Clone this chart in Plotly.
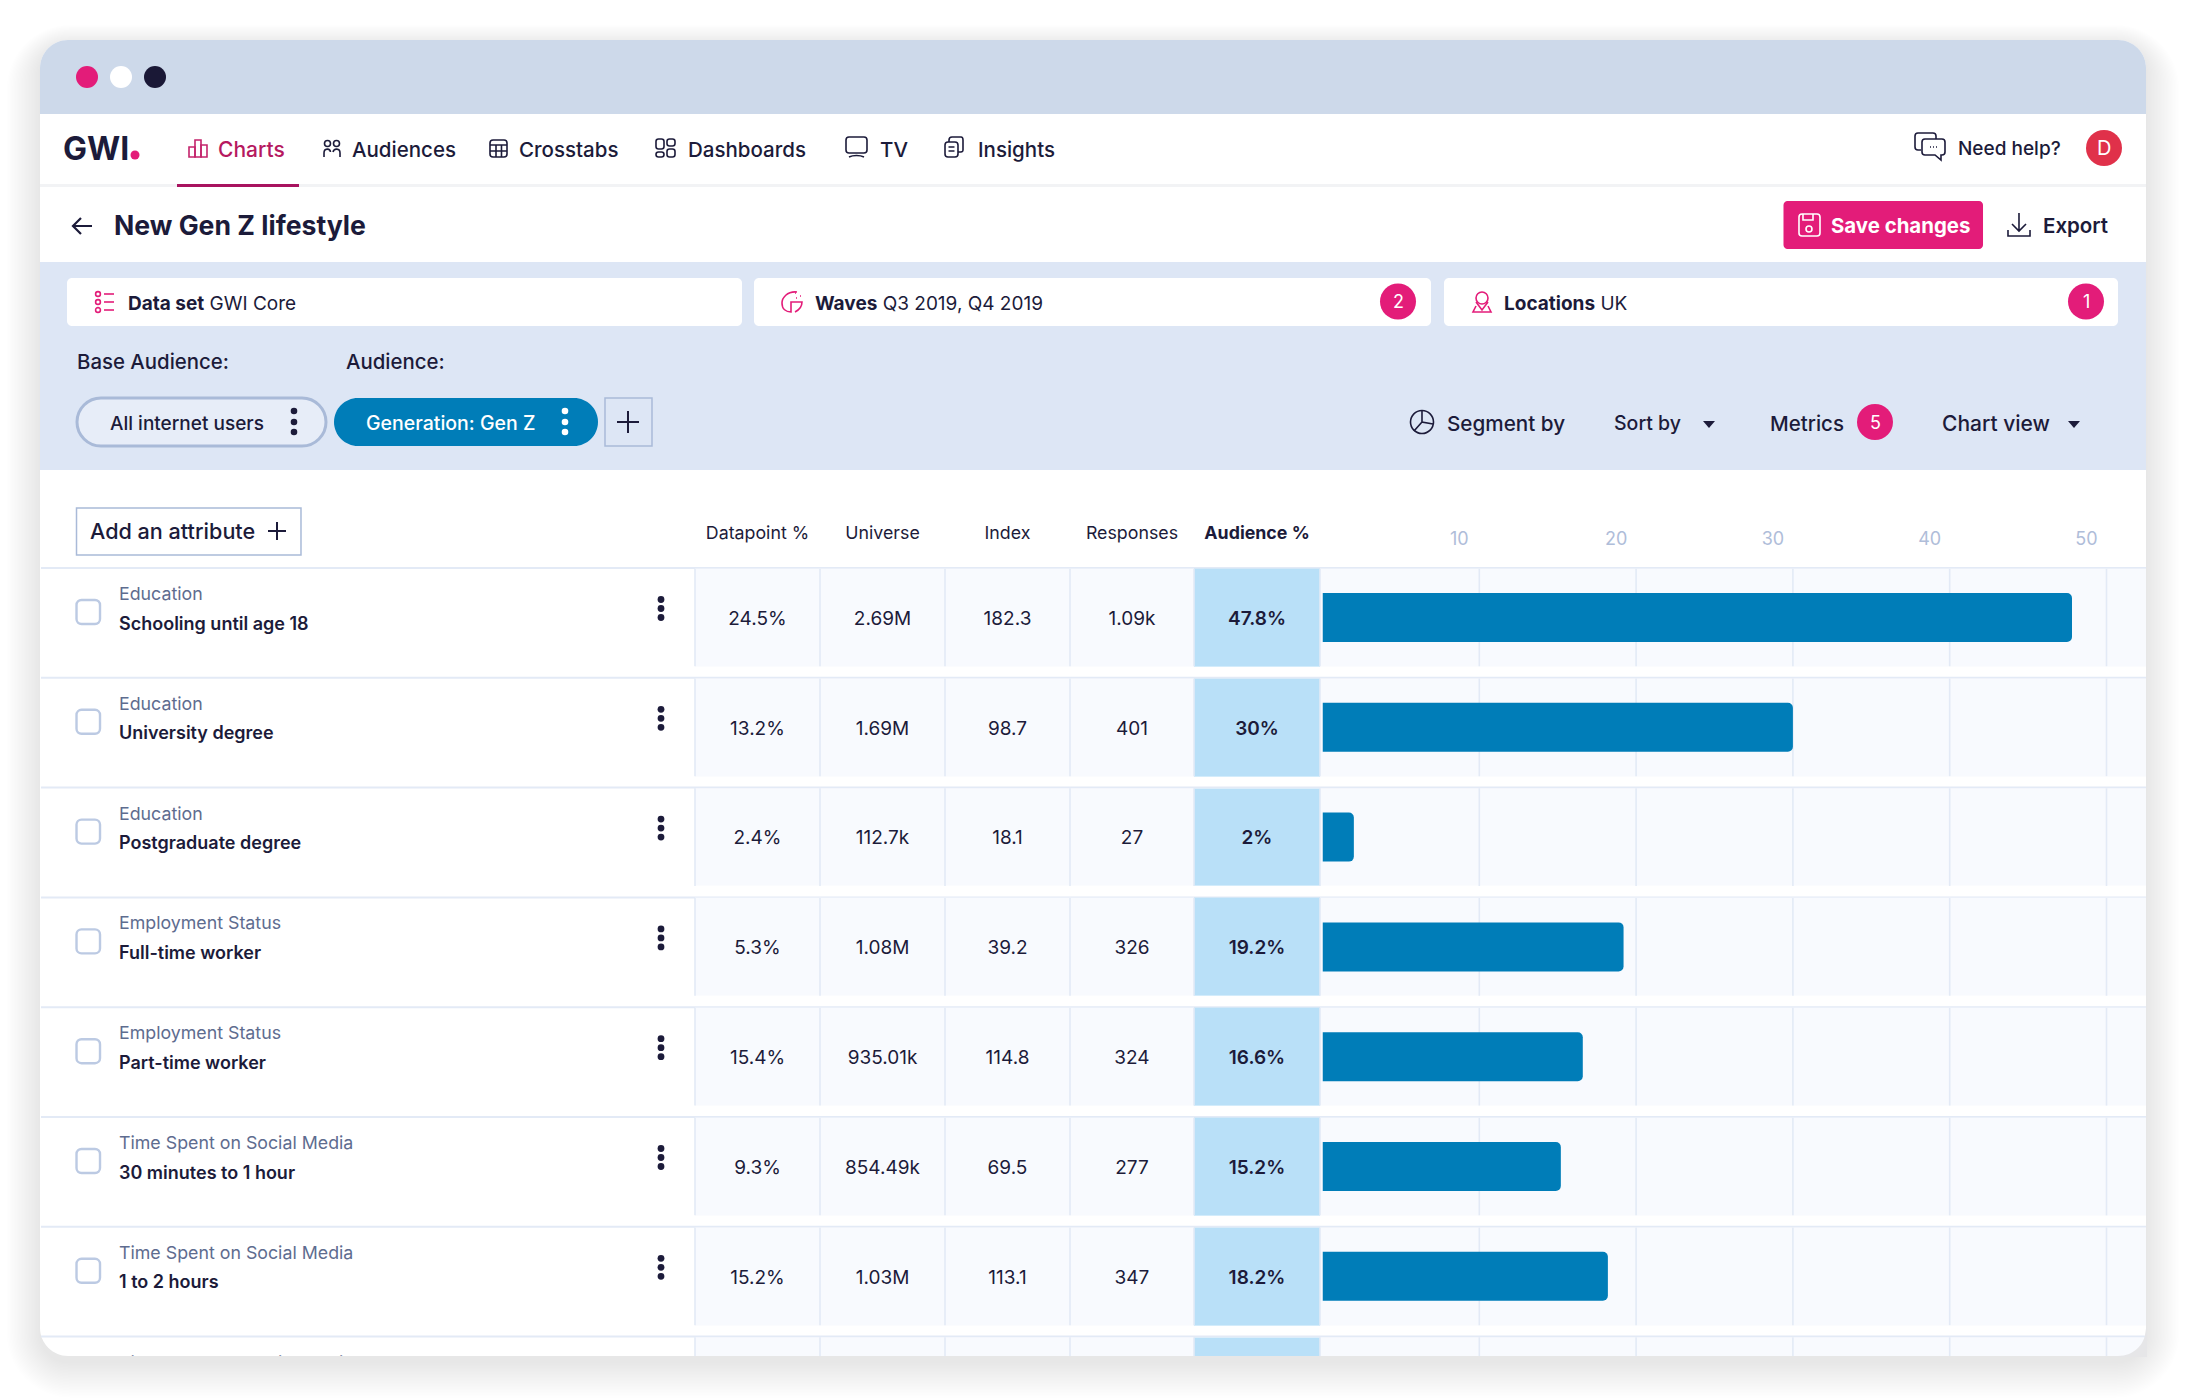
import re
import plotly.graph_objects as go

# table data (last row is cut off by the window edge)
groups = ["Education", "Education", "Education", "Employment Status", "Employment Status",
          "Time Spent on Social Media", "Time Spent on Social Media", "Time Spent on Social Media"]
names = ["Schooling until age 18", "University degree", "Postgraduate degree", "Full-time worker",
         "Part-time worker", "30 minutes to 1 hour", "1 to 2 hours"]
datapoint = ["24.5%", "13.2%", "2.4%", "5.3%", "15.4%", "9.3%", "15.2%"]
universe = ["2.69M", "1.69M", "112.7k", "1.08M", "935.01k", "854.49k", "1.03M"]
index_vals = ["182.3", "98.7", "18.1", "39.2", "114.8", "69.5", "113.1"]
responses = ["1.09k", "401", "27", "326", "324", "277", "347"]
audience = [47.8, 30, 2, 19.2, 16.6, 15.2, 18.2]
columns = ["Datapoint %", "Universe", "Index", "Responses", "<b>Audience %</b>"]
value_ticks = [10, 20, 30, 40, 50]
nav_items = ["Audiences", "Crosstabs", "Dashboards", "TV", "Insights"]

W, H = 2186, 1398
FONT = "Inter"
INK = "#1C1B3A"
PINK = "#E31C79"
BLUE = "#007DB8"
LINE = "#E3EAF6"
EDGE = "#A9BAD8"
SLATE = "#5E6C8F"

# pixel layout of the window
LEFT, RIGHT, TOP, BOTTOM = 40, 2146, 40, 1356
ROW0, ROW_H = 617.5, 109.8
TABLE_TOP = 568
col_edges = [695, 820, 945, 1070, 1194, 1320, RIGHT]
PX_PER_UNIT = 15.68
ZERO_X = 1322.5


def P(d):
    # pixel path -> paper path
    out, is_x = [], True
    for t in d.split():
        if t.isalpha():
            out.append(t)
        else:
            v = float(t)
            out.append(f"{v / W:.5f}" if is_x else f"{1 - v / H:.5f}")
            is_x = not is_x
    return " ".join(out)


def rr(x0, y0, x1, y1, r, bottom=True):
    k = r * 0.45
    d = f"M {x0 + r} {y0} L {x1 - r} {y0} C {x1 - k} {y0} {x1} {y0 + k} {x1} {y0 + r} "
    if bottom:
        d += f"L {x1} {y1 - r} C {x1} {y1 - k} {x1 - k} {y1} {x1 - r} {y1} "
        d += f"L {x0 + r} {y1} C {x0 + k} {y1} {x0} {y1 - k} {x0} {y1 - r} "
    else:
        d += f"L {x1} {y1} L {x0} {y1} "
    d += f"L {x0} {y0 + r} C {x0} {y0 + k} {x0 + k} {y0} {x0 + r} {y0} Z"
    return d


shapes = []
notes = []


def path(d, fill=None, color=None, width=1.6, opacity=1, layer="below"):
    shapes.append(dict(type="path", path=P(d), xref="paper", yref="paper", layer=layer, opacity=opacity,
                       fillcolor=fill or "rgba(0,0,0,0)",
                       line=dict(color=color or "rgba(0,0,0,0)", width=width if color else 0)))


def circle(cx, cy, r, fill=None, color=None, width=1.6):
    shapes.append(dict(type="circle", xref="paper", yref="paper", layer="below",
                       x0=(cx - r) / W, x1=(cx + r) / W, y0=1 - (cy + r) / H, y1=1 - (cy - r) / H,
                       fillcolor=fill or "rgba(0,0,0,0)",
                       line=dict(color=color or "rgba(0,0,0,0)", width=width if color else 0)))


def text(x, y, s, size=20, color=INK, weight=400, anchor="left"):
    notes.append(dict(x=x / W, y=1 - y / H, xref="paper", yref="paper", text=s, showarrow=False,
                      xanchor=anchor, yanchor="middle", borderpad=0,
                      font=dict(family=FONT, size=size, color=color, weight=weight)))


# shadow, window, bands
for k in range(1, 25):
    path(rr(LEFT - k * 1.4, TOP - k * 0.9 + 6, RIGHT + k * 1.4, BOTTOM + k * 1.5 + 6, 28 + k * 1.5), fill="#000000", opacity=0.0048)
path(rr(LEFT, TOP, RIGHT, BOTTOM, 28), fill="#FFFFFF")
path(rr(LEFT, TOP, RIGHT, 114, 28, bottom=False), fill="#CDD9EA")
path(f"M {LEFT} 262 L {RIGHT} 262 L {RIGHT} 470 L {LEFT} 470 Z", fill="#DDE6F5")
path(f"M {LEFT} 185.5 L {RIGHT} 185.5", color="#F2F3F5", width=3)
path("M 177 185.5 L 299 185.5", color="#A8135F", width=3)

# traffic lights
circle(87, 77, 11, fill=PINK)
circle(121, 77, 11, fill="#FFFFFF")
circle(155, 77, 11, fill="#1A1836")

# nav
text(62, 149, "<b>GWI</b>", size=32, weight=700)
circle(135, 155, 4.5, fill=PINK)
text(217, 150, "Charts", size=21, color="#B6195F", weight=500)
for item, x in zip(nav_items, [351, 518, 687, 879, 977]):
    text(x, 150, item, size=20.5, weight=500)
text(1957, 149, "Need help?", size=19, weight=500)
circle(2104, 148, 18, fill="#E0314A")
text(2104, 148, "D", size=20, color="#FFFFFF", anchor="center")

# nav icons
for x0, x1, y0 in [(189, 195, 147), (195, 201, 140), (201, 207, 145)]:
    path(f"M {x0} 157 L {x0} {y0} L {x1} {y0} L {x1} 157 Z", color="#C4246C")
circle(327.5, 143.5, 3, color=INK)
circle(336.5, 143.5, 3, color=INK)
path("M 324 157 L 324 153 C 324 148 330 148 330.5 152", color=INK)
path("M 333 152 C 334 148 340 148 340 153 L 340 157", color=INK)
path(rr(490, 140, 507, 157, 3), color=INK)
path("M 490 145 L 507 145 M 490 151 L 507 151 M 496 145 L 496 157 M 501.5 145 L 501.5 157", color=INK)
for x0, y0, y1 in [(656, 139, 149), (667, 139, 146), (656, 152, 157), (667, 149, 157)]:
    path(rr(x0, y0, x0 + 8, y1, 2.5), color=INK)
path(rr(846, 137, 867, 153, 3), color=INK)
path("M 849 157 C 853 155 860 155 864 157", color=INK)
path(rr(945, 142, 958, 157, 3), color=INK)
path("M 949 142 L 949 140 C 949 138 950 137 952 137 L 961 137 C 962 137 963 138 963 140 L 963 150 C 963 152 962 152 958 152", color=INK)
path("M 948.5 147 L 954.5 147 M 948.5 151 L 954.5 151", color=INK)
path("M 1936 141 L 1936 136 C 1936 134 1935 133 1933 133 L 1918 133 C 1916 133 1915 134 1915 136 L 1915 147 C 1915 149 1916 150 1918 150 L 1921 150", color=INK)
path("M 1925 139 L 1942 139 C 1944 139 1945 140 1945 142 L 1945 152 C 1945 154 1944 155 1942 155 L 1941 155 L 1941 160 L 1935 155 L 1925 155 C 1923 155 1922 154 1922 152 L 1922 142 C 1922 140 1923 139 1925 139 Z", color=INK, fill="#FFFFFF")
path("M 1930 147 L 1931 147 M 1933 147 L 1934 147 M 1936 147 L 1937 147", color=INK)

# header row
path("M 92 226 L 73 226 M 81 218 L 73 226 L 81 234", color=INK, width=2.2)
text(112.5, 225, "New Gen Z lifestyle", size=26.6, weight=700)
path(rr(1783.5, 201, 1983, 249, 4), fill=PINK)
text(1830, 225, "Save changes", size=20.4, color="#FFFFFF", weight=700)
path(rr(1799, 214, 1820, 236, 3), color="#FFFFFF")
path("M 1803 214 L 1803 220 L 1813 220 L 1813 214", color="#FFFFFF")
circle(1809, 229, 3, color="#FFFFFF")
text(2042, 225, "Export", size=20.5, weight=600)
path("M 2019 213 L 2019 231 M 2012 224 L 2019 231 L 2026 224 M 2008 230 L 2008 236 L 2030 236 L 2030 230", color=INK)

# filter boxes
for x0, x1 in [(67, 742), (754, 1431), (1444, 2118)]:
    path(rr(x0, 278, x1, 326, 5), fill="#FFFFFF")
text(127, 303, "<b>Data set</b> GWI Core", size=19)
text(814, 303, "<b>Waves</b> Q3 2019, Q4 2019", size=19)
text(1503, 303, "<b>Locations</b> UK", size=19)
for cy in [294, 302, 310]:
    circle(98, cy, 2.4, color=PINK)
    path(f"M 104 {cy} L 114 {cy}", color=PINK)
path("M 797 292 C 787 291 782 298 782 303 C 782 309 786 312 791 312 L 791 302 L 802 302 C 802 306 799 310 795 312", color=PINK)
path("M 795 293 L 796 293 M 800 296 L 801 296 M 796 298 L 797 298", color=PINK)
circle(1482, 298, 6, color=PINK)
path("M 1476 302 L 1482 310 L 1488 302 M 1476 306 L 1473 312 L 1491 312 L 1488 306", color=PINK)
circle(1398, 301.5, 18, fill=PINK)
text(1398, 301.5, "2", size=18, color="#FFFFFF", anchor="center")
circle(2086, 301.5, 18, fill=PINK)
text(2086, 301.5, "1", size=18, color="#FFFFFF", anchor="center")

# audience row
text(76, 361, "Base Audience:", size=20.4, weight=500)
text(345, 361, "Audience:", size=20.4, weight=500)
path(rr(77, 398, 326, 446, 24), fill="#E7EDF8", color=EDGE, width=3)
text(108.5, 423, "All internet users", size=19, weight=500)
path(rr(334, 398, 598, 446, 24), fill=BLUE)
text(365, 423, "Generation: Gen Z", size=19.5, color="#FFFFFF", weight=500)
for cy in [411, 422, 432]:
    circle(294, cy, 3.3, fill=INK)
    circle(565, cy, 3.3, fill="#FFFFFF")
path("M 605 398 L 652 398 L 652 446 L 605 446 Z", color=EDGE, width=1.5)
path("M 617 422 L 639 422 M 628 411 L 628 433", color=INK, width=2)
circle(1422, 422, 11.5, color=INK)
path("M 1422 410.5 L 1422 422 L 1433 424 M 1422 422 L 1414 431", color=INK)
text(1445.5, 423, "Segment by", size=20.7, weight=500)
text(1613, 423, "Sort by", size=19.5, weight=500)
path("M 1703 421 L 1715 421 L 1709 428 Z", fill=INK)
text(1769, 423, "Metrics", size=20.5, weight=500)
circle(1875, 422, 18, fill=PINK)
text(1875, 422, "5", size=18, color="#FFFFFF", anchor="center")
text(1941, 423, "Chart view", size=21, weight=500)
path("M 2068 421 L 2080 421 L 2074 428 Z", fill=INK)

# table head
path("M 76.5 508 L 301 508 L 301 555 L 76.5 555 Z", color=EDGE, width=1.5)
text(89, 531, "Add an attribute", size=21.6, weight=500)
path("M 268 531 L 286 531 M 277 522 L 277 540", color=INK, width=2)

# row furniture
for i in range(len(groups)):
    top = TABLE_TOP + ROW_H * i
    path(f"M {LEFT + 1} {top} L {RIGHT} {top}", color=LINE, width=2)
for i in range(len(names)):
    top = TABLE_TOP + ROW_H * i
    path(rr(76.5, top + 32, 100, top + 56, 5), color="#BCCAE3", width=2.4)
    for dy in [31.5, 40.5, 49.5]:
        circle(661, top + dy, 3.4, fill=INK)

# bottom corner of the window sits over the cell fill
path(f"M {RIGHT - 28} {BOTTOM} C {RIGHT - 12} {BOTTOM} {RIGHT} {BOTTOM - 12} {RIGHT} {BOTTOM - 28} L {RIGHT + 1} {BOTTOM - 28} L {RIGHT + 1} {BOTTOM + 1} L {RIGHT - 28} {BOTTOM + 1} Z",
     fill="#E6E6E8", layer="above")

rows = list(range(len(groups)))
col_centers = [(a + b) / 2 for a, b in zip(col_edges[:5], col_edges[1:6])]

fig = go.Figure()

# cell fills
z = [[1 if c == 4 else 0 for c in range(6)] for _ in rows]
fig.add_trace(go.Heatmap(x=col_edges, y=rows, z=z, ygap=12, zmin=0, zmax=1, showscale=False, hoverinfo="skip",
                         colorscale=[[0, "#F8FAFE"], [1, "#B9E0F8"]], xaxis="x", yaxis="y"))

# column rules inside each cell
lx, ly = [], []
for e in col_edges[:6]:
    for i in rows:
        lx += [e, e, None]
        ly += [i - 0.445, i + 0.445, None]
fig.add_trace(go.Scatter(x=lx, y=ly, mode="lines", line=dict(color=LINE, width=1.6), hoverinfo="skip", xaxis="x", yaxis="y"))

# row labels
fig.add_trace(go.Scatter(x=[119] * len(groups), y=[i - 0.2 for i in rows], mode="text", text=groups, textposition="middle right",
                         textfont=dict(family=FONT, size=17.8, color=SLATE), hoverinfo="skip", xaxis="x", yaxis="y"))
fig.add_trace(go.Scatter(x=[119] * len(names), y=[i + 0.07 for i in rows[:len(names)]], mode="text", text=names, textposition="middle right",
                         textfont=dict(family=FONT, size=18, color=INK, weight=600), hoverinfo="skip", xaxis="x", yaxis="y"))

# table values
audience_labels = [f"{v:g}%" for v in audience]
for c, vals in enumerate([datapoint, universe, index_vals, responses, audience_labels]):
    fig.add_trace(go.Scatter(x=[col_centers[c]] * len(vals), y=[i + 0.024 for i in rows[:len(vals)]], mode="text", text=vals, textposition="middle center",
                             textfont=dict(family=FONT, size=19, color=INK, weight=600 if c == 4 else 400),
                             hoverinfo="skip", xaxis="x", yaxis="y"))

# value grid, drawn in its own subplot so it stays under the bars
gx, gy = [], []
for t in value_ticks:
    for i in rows:
        gx += [t, t, None]
        gy += [i - 0.445, i + 0.445, None]
fig.add_trace(go.Scatter(x=gx, y=gy, mode="lines", line=dict(color=LINE, width=1.6), hoverinfo="skip", xaxis="x2", yaxis="y"))

fig.add_trace(go.Bar(x=audience, y=rows[:len(audience)], orientation="h", width=0.446,
                     marker=dict(color=BLUE, cornerradius=5, line=dict(width=0)), hoverinfo="skip", xaxis="x3", yaxis="y"))

value_max = (RIGHT - ZERO_X) / PX_PER_UNIT
value_domain = [ZERO_X / W, RIGHT / W]
y_range = [(BOTTOM - ROW0) / ROW_H, (TABLE_TOP - ROW0) / ROW_H]

fig.update_layout(
    width=W, height=H, margin=dict(l=0, r=0, t=0, b=0), showlegend=False,
    paper_bgcolor="#FFFFFF", plot_bgcolor="rgba(0,0,0,0)",
    shapes=shapes, annotations=notes, barmode="overlay",
    font=dict(family=FONT, color=INK),
    xaxis=dict(domain=[0, RIGHT / W], range=[0, RIGHT], side="top", anchor="y", showgrid=False, zeroline=False, showline=False,
               tickmode="array", tickvals=col_centers, ticktext=columns, ticks="", ticklabelstandoff=24,
               tickfont=dict(family=FONT, size=17.8, color=INK)),
    xaxis2=dict(domain=value_domain, range=[0, value_max], side="top", anchor="y", showgrid=False, zeroline=False, showline=False,
                tickmode="array", tickvals=value_ticks, ticks="", ticklabelstandoff=18, ticklabelshift=-20,
                tickfont=dict(family=FONT, size=18, color="#AFBDD9")),
    xaxis3=dict(domain=value_domain, range=[0, value_max], anchor="y", visible=False),
    yaxis=dict(domain=[1 - BOTTOM / H, 1 - TABLE_TOP / H], range=y_range, anchor="x", visible=False),
)

fig.write_html("out.html", config={"displayModeBar": False}, post_script="document.body.style.margin='0';")
